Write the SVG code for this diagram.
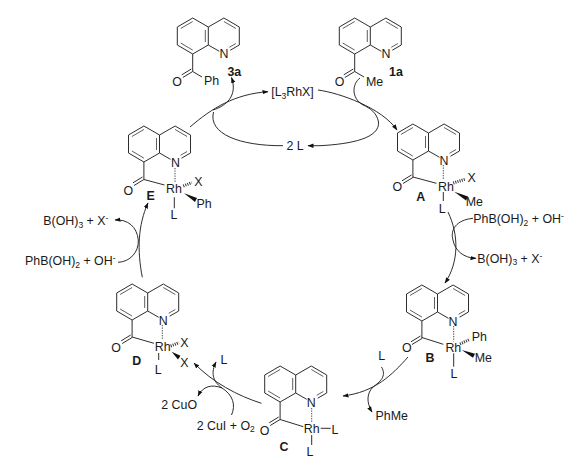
<svg xmlns="http://www.w3.org/2000/svg" xmlns:xlink="http://www.w3.org/1999/xlink" width="566" height="458" viewBox="0 0 566 458">
<style>
text{font-family:"Liberation Sans",Arial,sans-serif;font-size:12.4px;fill:#1a1a1a;text-anchor:middle}
.b{font-weight:bold}
.s{text-anchor:start}
.l{fill:none;stroke:#222;stroke-width:.95}
.i{fill:none;stroke:#555;stroke-width:.95}
.d{fill:none;stroke:#444;stroke-width:1;stroke-dasharray:1.3 1.2}
.h{fill:none;stroke:#333;stroke-width:3;stroke-dasharray:1 1.2}
.w{fill:#111;stroke:none}
.a{fill:none;stroke:#222;stroke-width:.95;marker-end:url(#ah)}
</style>
<defs>
<marker id="ah" markerUnits="userSpaceOnUse" markerWidth="8" markerHeight="6" refX="5.500" refY="2.500" orient="auto"><path d="M0,0.3L6,2.500L0,4.700Z" fill="#111"/></marker>
<g id="q">
<path class="l" d="M0,0V-18L-15.6,-27L-31,-18V0L-15.6,9L0,0M0,-18L15.6,-27L31,-18V0L22,5.2M0,0L11,6.3M-15.6,9V26.5L-25.5,32.5M-17,24L-26.5,29.8"/>
<path class="i" d="M-15.6,-23.5L-27.6,-16.5M-27.6,-2L-15.6,5.1M-3,-15V-3M15.6,-23.5L27.6,-16.5M27.6,-1.5L21,2.3"/>
</g>
</defs>
<rect width="566" height="458" fill="#fff"/>
<g id="connectors">
<path class="a" d="M190,127C212,108 235,94 268,91.7"/>
<path class="a" d="M213,110C226,106 238,96 231.500,77.500"/>
<path class="l" d="M283,145.7C240,146 208,134 213.500,112"/>
<path class="a" d="M320,145.700H308"/>
<path class="l" d="M320,145.700C352,144 380,138 378.500,122C377,113 370,108 363,105"/>
<path class="a" d="M318,90C340,93 382,108 397,130"/>
<path class="l" d="M360,78C352,84 351,98 363,105"/>
<path class="a" d="M448,212C459,235 459,262 445,283"/>
<path class="a" d="M473,218.300C456,220 450,230 453,240C455,251 464,258 476,258.300"/>
<path class="a" d="M408,357C392,375 375,392 343,396"/>
<path class="l" d="M381.500,367C387,376 380,382 373,387"/>
<path class="a" d="M373,387C367,393 366,402 372,412"/>
<path class="a" d="M261.500,403.300C238,396 212,382 194,363"/>
<path class="a" d="M231.500,415C236,405 233,395 222,388C212,381 211,372 216,362"/>
<path class="a" d="M222,388C212,384 203,386 198,396"/>
<path class="a" d="M142.300,277.300C137,250 138,225 148,203"/>
<path class="a" d="M118,262.300C130,262 139,252 138.300,240C137,227 128,219 115,220"/>
</g>
<g id="node-3a">
<use xlink:href="#q" href="#q" x="208.300" y="45"/>
<path class="l" d="M192.700,71.500L202,77"/>
<text x="224" y="58">N</text><text x="177" y="85.500">O</text><text x="211.500" y="84.500">Ph</text><text class="b" x="234.300" y="75.500">3a</text>
</g>
<g id="node-1a">
<use xlink:href="#q" href="#q" x="370.300" y="45"/>
<path class="l" d="M354.700,71.500L364,77"/>
<text x="385.900" y="58">N</text><text x="339.500" y="85.500">O</text><text x="374.500" y="85.500">Me</text><text class="b" x="396" y="75.500">1a</text>
</g>
<g id="node-rh"><text x="292.500" y="96">[L<tspan font-size="8.500" dy="2.500">3</tspan><tspan dy="-2.500">RhX]</tspan></text></g>
<g id="node-2l"><text x="295" y="150">2 L</text></g>
<g id="node-E">
<use xlink:href="#q" href="#q" x="159.500" y="153"/>
<path class="l" d="M144,179.500L164.500,185M174.300,197.300V208.300"/><path class="d" d="M175,168V183"/><path class="h" d="M183.300,186L191.700,182.700"/><polygon class="w" points="184,193.300 197,198 195,202"/>
<text x="175.500" y="167">N</text><text x="128.300" y="194.500">O</text><text x="174" y="193">Rh</text><text x="198.300" y="186">X</text><text x="204" y="208">Ph</text><text x="174" y="218.500">L</text><text class="b" x="150.700" y="199.500">E</text>
</g>
<g id="node-A">
<use xlink:href="#q" href="#q" x="428.500" y="151"/>
<path class="l" d="M412.900,177L436.500,183.300M443.300,192V201"/><path class="d" d="M443.300,165V180"/><path class="h" d="M453.300,183L465,179.300"/><polygon class="w" points="454.300,191.700 468,196.500 466,200.500"/>
<text x="444.100" y="164.500">N</text><text x="397.300" y="191">O</text><text x="446" y="191">Rh</text><text x="471.700" y="182">X</text><text x="474.300" y="206">Me</text><text x="442.300" y="212.500">L</text><text class="b" x="420.700" y="201">A</text>
</g>
<g id="node-B">
<use xlink:href="#q" href="#q" x="437.500" y="312"/>
<path class="l" d="M421.900,337.500L443.300,344.300M453.700,353.300V366.700"/><path class="d" d="M453.700,326V341.500"/><path class="h" d="M460,344L470,339.300"/><polygon class="w" points="461.700,350 475,353.700 473,357.700"/>
<text x="453.100" y="325.500">N</text><text x="406.700" y="351.700">O</text><text x="453.300" y="352">Rh</text><text x="479.300" y="341">Ph</text><text x="483.300" y="362">Me</text><text x="454" y="377.700">L</text><text class="b" x="430" y="362">B</text>
</g>
<g id="node-C">
<use xlink:href="#q" href="#q" x="295.700" y="393"/>
<path class="l" d="M280.100,419.500L303.300,426.700M320.700,428.300H330.700M311.700,435V445"/><path class="d" d="M311.700,408V423"/>
<text x="311.300" y="406.500">N</text><text x="264.500" y="435">O</text><text x="311.700" y="432.700">Rh</text><text x="335" y="433.500">L</text><text x="310" y="456">L</text><text class="b" x="284" y="451">C</text>
</g>
<g id="node-D">
<use xlink:href="#q" href="#q" x="147.700" y="311"/>
<path class="l" d="M132.100,337L154,343.300M158.700,353V360"/><path class="d" d="M162.300,325V340"/><path class="h" d="M170.700,346L179,342.700"/><polygon class="w" points="171.700,351.700 180.500,355.700 178,359.500"/>
<text x="163.300" y="324.500">N</text><text x="116" y="351.700">O</text><text x="162.700" y="351">Rh</text><text x="184.300" y="347">X</text><text x="184.300" y="367">X</text><text x="158.300" y="373.500">L</text><text class="b" x="136.700" y="365">D</text>
</g>
<g id="reagents">
<text class="s" x="473.300" y="223">PhB(OH)<tspan font-size="8.500" dy="2.500">2</tspan><tspan dy="-2.500"> + OH</tspan><tspan font-size="8.500" dy="-4">-</tspan></text>
<text class="s" x="477.300" y="262.500">B(OH)<tspan font-size="8.500" dy="2.500">3</tspan><tspan dy="-2.500"> + X</tspan><tspan font-size="8.500" dy="-4">-</tspan></text>
<text x="381.700" y="359.500">L</text>
<text x="391.700" y="419.500">PhMe</text>
<text x="224" y="363.500">L</text>
<text x="179.200" y="408.500">2 CuO</text>
<text class="s" x="196.700" y="429.500">2 CuI + O<tspan font-size="8.500" dy="2.500">2</tspan></text>
<text class="s" x="43.300" y="225">B(OH)<tspan font-size="8.500" dy="2.500">3</tspan><tspan dy="-2.500"> + X</tspan><tspan font-size="8.500" dy="-4">-</tspan></text>
<text class="s" x="25" y="265">PhB(OH)<tspan font-size="8.500" dy="2.500">2</tspan><tspan dy="-2.500"> + OH</tspan><tspan font-size="8.500" dy="-4">-</tspan></text>
</g>
</svg>
